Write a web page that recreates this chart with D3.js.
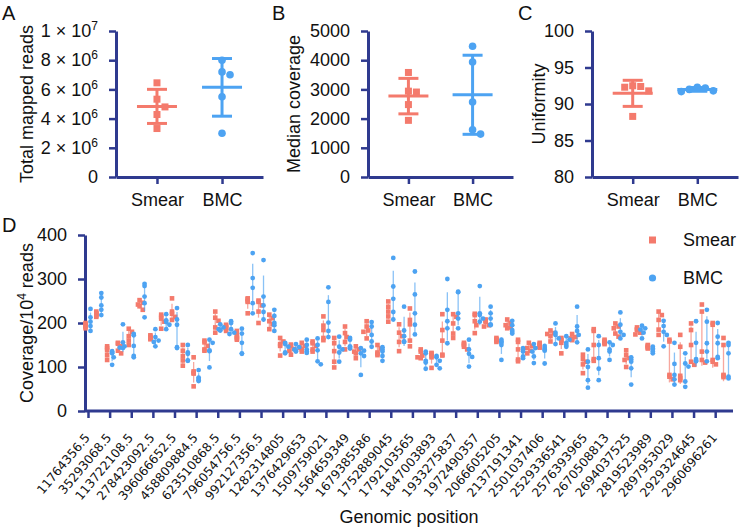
<!DOCTYPE html>
<html><head><meta charset="utf-8">
<script src="https://cdn.jsdelivr.net/npm/d3@7"></script>
<style>
body{margin:0;background:#fff}
svg{display:block}
text{font-family:"Liberation Sans",Arial,sans-serif;fill:#111}
</style>
</head><body>
<svg id="c" width="740" height="528"></svg>
<script>
// ---------------- DATA ----------------
const groups = ["Smear", "BMC"];

const readsSmear = [6.45e6, 5.33e6, 4.8e6, 4.28e6, 3.32e6];
const readsBMC   = [8.0e6, 7.2e6, 7.0e6, 5.5e6, 3.0e6];
const readsTicks = [0, 2e6, 4e6, 6e6, 8e6, 1e7];

const covSmear = [3580, 2940, 2910, 2480, 1940];
const covBMC   = [4480, 3940, 2570, 1620, 1470];
const covTicks = [0, 1000, 2000, 3000, 4000, 5000];

const unifSmear = [92.5, 92.4, 92.3, 91.8, 88.3];
const unifBMC   = [92.3, 92.2, 92.0, 91.8, 91.7];
const unifTicks = [80, 85, 90, 95, 100];

const positionLabels = ["11764356.5","35293068.5","113722108.5","278423092.5","396066652.5",
  "458809884.5","623510868.5","796054756.5","992127356.5","1282314805","1376429653",
  "1509759021","1564659349","1679385586","1752889045","1792103565","1847003893",
  "1933275837","1972490357","2066605205","2137191341","2501037406","2529336541",
  "2576393965","2670508813","2694037525","2819523989","2897953029","2929324645","2960696261"];
const coverageTicks = [0, 100, 200, 300, 400];

const smearD = [
 [200,197,194,192,188],[226,222,220,217,214],[147,143,138,127,116],[155,153,147,137,131],
 [187,180,170,160,150],[252,246,242,238,230],[172,169,167,165,163],[219,214,210,203,187],
 [256,226,221,214,207],[150,137,125,115,103],[122,90,87,85,56],[160,156,148,140,137],
 [226,212,205,190,178],[196,193,190,187,182],[182,172,168,165,162],[256,254,250,248,222],
 [251,248,240,226,200],[219,211,204,197,186],[166,158,152,148,126],[151,147,141,137,128],
 [155,148,144,140,135],[158,154,148,140,135],[215,194,184,166,161],[166,154,136,112,99],
 [192,177,168,157,140],[147,140,135,131,120],[204,192,183,180,165],[150,142,133,130,127],
 [249,237,226,215,203],[197,178,170,157,136],[233,207,197,160,147],[140,135,126,122,120],
 [132,130,125,122,98],[220,184,160,128,126],[220,214,199,176,166],[155,152,150,146,140],
 [221,218,204,195,177],[208,205,203,195,192],[166,163,162,160,157],[208,200,195,190,188],
 [162,157,140,117,113],[155,148,143,137,131],[155,152,150,146,144],[183,177,175,170,158],
 [166,162,160,155,131],[175,168,165,163,161],[128,118,112,106,86],[186,182,150,118,114],
 [162,159,156,155,152],[199,192,188,176,169],[138,127,120,116,100],[190,186,184,178,174],
 [150,148,146,144,142],[226,218,207,185,173],[162,158,82,78,72],[173,146,80,75,70],
 [199,184,150,112,105],[242,226,135,116,110],[200,196,116,112,106],[166,150,82,80,77]
];
const bmcD = [
 [232,213,203,193,182],[268,258,240,230,218],[136,133,131,122,105],[197,156,147,144,143],
 [175,172,148,125,122],[289,284,260,245,213],[186,168,160,157,147],[220,206,202,196,186],
 [234,208,196,145,143],[150,133,130,115,114],[93,76,73,70,68],[162,155,138,136,99],
 [197,190,186,184,183],[204,200,186,178,175],[187,176,155,131,130],[359,302,280,245,222],
 [343,260,240,225,208],[230,216,200,195,182],[155,152,146,133,131],[152,145,140,137,135],
 [162,150,140,135,132],[165,150,138,113,106],[281,248,201,182,168],[169,146,140,133,112],
 [166,162,147,144,142],[143,137,131,125,82],[202,192,173,158,146],[145,140,135,125,114],
 [348,283,255,225,208],[237,183,170,158,157],[317,265,222,196,174],[135,131,114,110,96],
 [125,122,114,105,97],[300,230,204,188,154],[271,270,222,210,188],[162,140,130,123,101],
 [284,222,218,210,203],[237,222,210,197,195],[162,158,155,150,116],[205,195,184,180,176],
 [143,140,135,124,120],[152,143,135,124,109],[148,143,140,137,108],[199,178,173,165,152],
 [170,162,155,150,146],[237,192,182,173,156],[140,112,100,70,53],[170,150,120,96,70],
 [156,150,140,135,116],[224,196,180,173,165],[122,117,112,97,60],[194,188,185,178,165],
 [146,142,139,135,131],[205,193,180,173,147],[155,107,82,72,60],[131,108,101,67,55],
 [204,155,118,115,113],[230,203,154,135,113],[200,169,154,123,120],[155,150,131,78,74]
];

// ---------------- STYLE ----------------
const RED = "#F47A6C", BLUE = "#4DA3F2", AX = "#2F3A8F";
const svg = d3.select("#c");

function swarm(vals, y, diam, step, maxOff) {
  const placed = [];
  return vals.map(v => {
    const yy = y(v);
    let off = 0;
    for (let k = 0; k < 30; k++) {
      const cand = k === 0 ? 0 : (k % 2 ? 1 : -1) * Math.ceil(k / 2) * step;
      if (Math.abs(cand) > maxOff) break;
      if (placed.every(p => Math.hypot(p.x - cand, p.y - yy) >= diam)) { off = cand; break; }
    }
    placed.push({x: off, y: yy});
    return {v, y: yy, off};
  });
}

function styleAxis(g) {
  g.selectAll("path.domain").attr("stroke", AX).attr("stroke-width", 3);
  g.selectAll(".tick line").attr("stroke", AX).attr("stroke-width", 2.5);
  g.selectAll(".tick text").attr("fill", "#111").style("font-family", '"Liberation Sans",Arial,sans-serif');
}

function supLabel(sel, fmt) {
  sel.each(function(d) {
    const t = d3.select(this); const parts = fmt(d);
    t.text(parts[0]);
    if (parts[1]) t.append("tspan").attr("baseline-shift", "super").attr("font-size", "12px").text(parts[1]);
  });
}

function panel(opt) {
  const y = d3.scaleLinear().domain(opt.domain).range([177, 31]);
  const x = d3.scalePoint().domain(groups).range([opt.x0, opt.x1]).padding(0.63);
  const gy = svg.append("g").attr("transform", `translate(${opt.x0},0)`)
    .call(d3.axisLeft(y).tickValues(opt.ticks).tickFormat(d3.format("d")).tickSize(7).tickSizeOuter(0).tickPadding(11));
  styleAxis(gy);
  gy.selectAll(".tick text").attr("font-size", 18);
  if (opt.fmt) supLabel(gy.selectAll(".tick text"), opt.fmt);
  const gx = svg.append("g").attr("transform", "translate(0,177)")
    .call(d3.axisBottom(x).tickSize(7).tickSizeOuter(0).tickPadding(9));
  styleAxis(gx);
  gx.selectAll(".tick text").attr("font-size", 18);

  svg.append("text").attr("transform", `translate(${opt.titleX},${y((opt.domain[0]+opt.domain[1])/2)}) rotate(-90)`)
    .attr("text-anchor", "middle").attr("font-size", 18).text(opt.title);
  svg.append("text").attr("x", opt.letterX).attr("y", 20).attr("font-size", 20).text(opt.letter);

  [[opt.smear, RED, "sq"], [opt.bmc, BLUE, "ci"]].forEach(([vals, col, shape], gi) => {
    const cx = x(groups[gi]);
    const m = d3.mean(vals), sd = d3.deviation(vals);
    const g = svg.append("g");
    g.append("line").attr("x1", cx).attr("x2", cx).attr("y1", y(m - sd)).attr("y2", y(m + sd))
      .attr("stroke", col).attr("stroke-width", 3);
    [m - sd, m + sd].forEach(v => g.append("line").attr("x1", cx - 10).attr("x2", cx + 10)
      .attr("y1", y(v)).attr("y2", y(v)).attr("stroke", col).attr("stroke-width", 3));
    g.append("line").attr("x1", cx - 20).attr("x2", cx + 20).attr("y1", y(m)).attr("y2", y(m))
      .attr("stroke", col).attr("stroke-width", 3);
    const pts = swarm(vals, y, 8, 8, 20);
    pts.forEach(p => {
      if (shape === "sq") g.append("rect").attr("x", cx + p.off - 3.5).attr("y", p.y - 3.5)
        .attr("width", 7).attr("height", 7).attr("fill", col);
      else g.append("circle").attr("cx", cx + p.off).attr("cy", p.y).attr("r", 3.8).attr("fill", col);
    });
  });
}

const sciFmt = d => {
  if (d === 0) return ["0"];
  const e = Math.floor(Math.log10(d) + 1e-9), mant = Math.round(d / Math.pow(10, e));
  return [`${mant} \u00d7 10`, String(e)];
};

panel({x0: 116, x1: 263, domain: [0, 1e7], ticks: readsTicks, fmt: sciFmt,
  smear: readsSmear, bmc: readsBMC, title: "Total mapped reads", titleX: 33, letter: "A", letterX: 2});
panel({x0: 368, x1: 513, domain: [0, 5000], ticks: covTicks,
  smear: covSmear, bmc: covBMC, title: "Median coverage", titleX: 300, letter: "B", letterX: 272});
panel({x0: 592, x1: 738, domain: [80, 100], ticks: unifTicks,
  smear: unifSmear, bmc: unifBMC, title: "Uniformity", titleX: 545, letter: "C", letterX: 518});

// ---------------- PANEL D ----------------
const Y0 = 411, Y1 = 235, DX0 = 85, DX1 = 733;
const yD = d3.scaleLinear().domain([0, 400]).range([Y0, Y1]);
const xD = d3.scalePoint().domain(d3.range(smearD.length)).range([88, 726]);

const gyD = svg.append("g").attr("transform", `translate(${DX0},0)`)
  .call(d3.axisLeft(yD).tickValues(coverageTicks).tickSize(7).tickSizeOuter(0).tickPadding(11));
styleAxis(gyD);
gyD.selectAll(".tick text").attr("font-size", 18);

const gxD = svg.append("g").attr("transform", `translate(0,${Y0})`)
  .call(d3.axisBottom(xD).tickValues(d3.range(0, smearD.length, 2)).tickSize(7).tickSizeOuter(0)
    .tickFormat(i => positionLabels[i / 2]));
styleAxis(gxD);
gxD.select("path.domain").remove();
gxD.append("line").attr("x1", DX0).attr("x2", DX1).attr("stroke", AX).attr("stroke-width", 3);
gxD.selectAll(".tick text")
  .style("font-family", '"DejaVu Sans",Verdana,sans-serif').style("font-size", "12.3px").attr("fill", "#333")
  .attr("x", 0).attr("y", 0).attr("dy", 0).attr("text-anchor", "end")
  .attr("transform", "translate(2,27) rotate(-50)");

svg.append("text").attr("transform", `translate(33,${(Y0 + Y1) / 2}) rotate(-90)`)
  .attr("text-anchor", "middle").attr("font-size", 18)
  .call(t => { t.append("tspan").text("Coverage/10");
               t.append("tspan").attr("baseline-shift", "super").attr("font-size", "12px").text("4");
               t.append("tspan").text(" reads"); });
svg.append("text").attr("x", (DX0 + DX1) / 2).attr("y", 523).attr("text-anchor", "middle")
  .attr("font-size", 18).text("Genomic position");
svg.append("text").attr("x", 2).attr("y", 232).attr("font-size", 20).text("D");

[[smearD, RED, "sq", -2.5], [bmcD, BLUE, "ci", 2.5]].forEach(([data, col, shape, shift]) => {
  const g = svg.append("g");
  data.forEach((vals, i) => {
    const cx = xD(i) + shift;
    const m = d3.mean(vals), sd = d3.deviation(vals);
    g.append("line").attr("x1", cx).attr("x2", cx).attr("y1", yD(m - sd)).attr("y2", yD(m + sd))
      .attr("stroke", col).attr("stroke-width", 1.3).attr("opacity", 0.65);
    swarm(vals, yD, 4, 1.6, 3.2).forEach(p => {
      if (shape === "sq") g.append("rect").attr("x", cx + p.off - 2.3).attr("y", p.y - 2.3)
        .attr("width", 4.6).attr("height", 4.6).attr("fill", col);
      else g.append("circle").attr("cx", cx + p.off).attr("cy", p.y).attr("r", 2.4).attr("fill", col);
    });
  });
});

// legend
const lg = svg.append("g");
groups.forEach((name, i) => {
  const yy = 240 + i * 38;
  if (i === 0) lg.append("rect").attr("x", 649).attr("y", yy - 3.5).attr("width", 7).attr("height", 7).attr("fill", RED);
  else lg.append("circle").attr("cx", 652.5).attr("cy", yy).attr("r", 3.6).attr("fill", BLUE);
  lg.append("text").attr("x", 683).attr("y", yy + 6).attr("font-size", 18).text(name);
});
</script>
</body></html>
